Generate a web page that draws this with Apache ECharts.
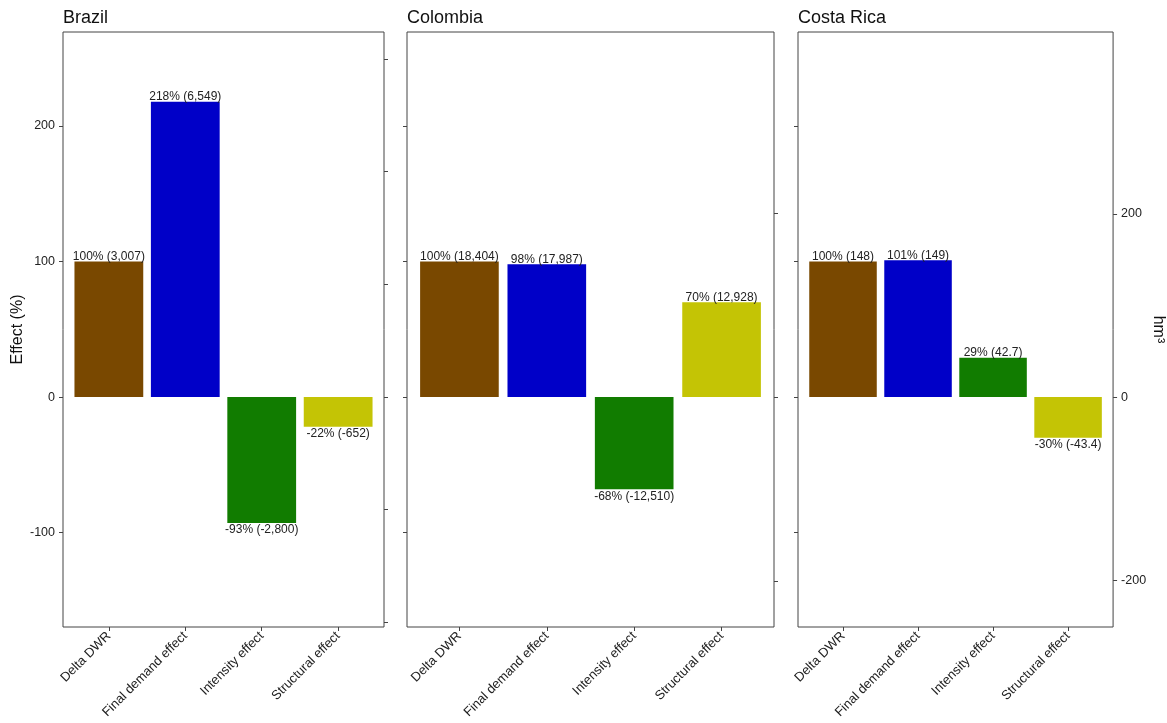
<!DOCTYPE html>
<html>
<head>
<meta charset="utf-8">
<script src="https://cdn.jsdelivr.net/npm/echarts@6/dist/echarts.min.js"></script>
<style>
  html, body { margin: 0; padding: 0; background: #fff; }
  #chart { width: 1167px; height: 723px; }
</style>
</head>
<body>
<div id="chart"></div>
<script>
// Decomposition of the change in domestic water requirement (DWR)
const categories = ['Delta DWR', 'Final demand effect', 'Intensity effect', 'Structural effect'];
const countries = ['Brazil', 'Colombia', 'Costa Rica'];

// Effect relative to Delta DWR (%)
const brazilPct = [100, 218, -93, -22];
const colombiaPct = [100, 98, -68, 70];
const costaRicaPct = [100, 101, 29, -30];

// Same effects in hm³
const brazilHm3 = [3007, 6549, -2800, -652];
const colombiaHm3 = [18404, 17987, -12510, 12928];
const costaRicaHm3 = [148, 149, 42.7, -43.4];

// Secondary-axis ticks (hm³)
const brazilHm3Ticks = [-5000, -2500, 0, 2500, 5000, 7500];
const colombiaHm3Ticks = [-25000, 0, 25000];
const costaRicaHm3Ticks = [-200, 0, 200];

const pctTicks = [-100, 0, 100, 200];
const barColors = ['#794800', '#0000C8', '#117C00', '#C4C405'];

const pctSets = [brazilPct, colombiaPct, costaRicaPct];
const hm3Sets = [brazilHm3, colombiaHm3, costaRicaHm3];
const hm3TickSets = [brazilHm3Ticks, colombiaHm3Ticks, costaRicaHm3Ticks];

const Y_MIN = -169.7, Y_MAX = 269.4;
const panels = [
  { left: 63, right: 783 },
  { left: 407, right: 393 },
  { left: 798, right: 53 }
];
const TOP = 32, BOTTOM = 96;
const FONT = 'Liberation Sans, Arial, sans-serif';
const TEXT = '#222';
const LINE = '#444';

const fmtHm3 = v => v.toLocaleString('en-US', { maximumFractionDigits: 1 });

const grid = [], xAxis = [], yAxis = [], series = [], title = [];

panels.forEach((p, i) => {
  const pct = pctSets[i], hm3 = hm3Sets[i];
  const perPct = hm3[0] / pct[0]; // hm³ per 1 %

  grid.push({ left: p.left, right: p.right, top: TOP, bottom: BOTTOM,
    show: true, borderColor: LINE, borderWidth: 1, backgroundColor: '#fff' });

  title.push({ text: countries[i], left: p.left - 5, top: 4,
    textStyle: { fontFamily: FONT, fontSize: 18, fontWeight: 'normal', color: '#111' } });

  xAxis.push({
    type: 'value', gridIndex: i, min: 0.4, max: 4.6, position: 'bottom',
    axisLine: { show: false, onZero: false },
    splitLine: { show: false },
    axisTick: { show: true, customValues: [1, 2, 3, 4], length: 4, lineStyle: { color: LINE } },
    axisLabel: {
      customValues: [1, 2, 3, 4], rotate: 45, margin: 7,
      fontFamily: FONT, fontSize: 13, color: TEXT,
      formatter: v => categories[Math.round(v) - 1] || ''
    }
  });

  // left axis: effect (%)
  yAxis.push({
    type: 'value', gridIndex: i, position: 'left', min: Y_MIN, max: Y_MAX,
    axisLine: { show: false, onZero: false },
    splitLine: { show: false },
    axisTick: { show: true, customValues: pctTicks, length: 4, lineStyle: { color: LINE } },
    axisLabel: { show: i === 0, customValues: pctTicks, margin: 8,
      fontFamily: FONT, fontSize: 12.5, color: TEXT },
    name: i === 0 ? 'Effect (%)' : '',
    nameLocation: 'middle', nameGap: 36, nameRotate: 90,
    nameTextStyle: { fontFamily: FONT, fontSize: 16, color: '#111' }
  });

  // right axis: hm³ on the same scale
  yAxis.push({
    type: 'value', gridIndex: i, position: 'right',
    min: Y_MIN * perPct, max: Y_MAX * perPct,
    axisLine: { show: false, onZero: false },
    splitLine: { show: false },
    axisTick: { show: true, customValues: hm3TickSets[i], length: 4, lineStyle: { color: LINE } },
    axisLabel: { show: i === 2, customValues: hm3TickSets[i], margin: 8,
      fontFamily: FONT, fontSize: 12.5, color: TEXT },
    name: i === 2 ? 'hm³' : '',
    nameLocation: 'middle', nameGap: 32, nameRotate: -90,
    nameTextStyle: { fontFamily: FONT, fontSize: 16, color: '#111' }
  });

  const labels = pct.map((v, k) => v + '% (' + fmtHm3(hm3[k]) + ')');

  series.push({
    type: 'custom',
    xAxisIndex: i, yAxisIndex: i * 2,
    clip: false,
    data: pct.map((v, k) => [k + 1, v]),
    renderItem: (params, api) => {
      const x = api.value(0), v = api.value(1);
      const a = api.coord([x - 0.45, v]);
      const b = api.coord([x + 0.45, 0]);
      const top = Math.min(a[1], b[1]);
      const h = Math.abs(a[1] - b[1]);
      const cx = (a[0] + b[0]) / 2;
      const k = params.dataIndex;
      return {
        type: 'group',
        children: [
          { type: 'rect', shape: { x: a[0], y: top, width: b[0] - a[0], height: h },
            style: { fill: barColors[k] } },
          { type: 'text',
            style: {
              text: labels[k], x: cx,
              y: a[1] + 1,
              align: 'center', verticalAlign: v >= 0 ? 'bottom' : 'top',
              font: '12px ' + FONT, fill: TEXT
            } }
        ]
      };
    }
  });
});

const chart = echarts.init(document.getElementById('chart'), null, { renderer: 'canvas' });
chart.setOption({
  animation: false,
  backgroundColor: '#fff',
  title, grid, xAxis, yAxis, series
});
</script>
</body>
</html>
